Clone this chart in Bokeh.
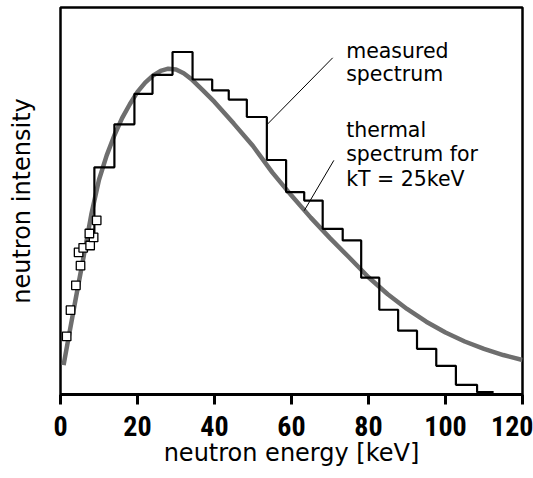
import math
from bokeh.plotting import figure
from bokeh.models import Range1d, FixedTicker
from bokeh.core.properties import value
from bokeh.embed import file_html
from bokeh.resources import INLINE

# ---- data ----
x_ticks = [0, 20, 40, 60, 80, 100, 120]

curve_e = [0.8, 2, 4, 6, 8, 10, 12, 14, 16, 18, 20, 22, 24, 26, 28, 30, 32, 34, 37,
           40, 45, 50, 55, 60, 65, 70, 75, 80, 85, 90, 95, 100, 105, 110, 115, 120]
curve_i = [7.6, 14.2, 25.0, 35.6, 46.5, 55.5, 61.8, 67.0, 71.4, 75.0, 78.2, 80.6,
           82.4, 83.6, 84.2, 84.0, 83.0, 81.5, 78.6, 75.6, 70.0, 64.2, 57.4, 51.4,
           45.7, 40.4, 35.4, 30.3, 25.9, 22.1, 18.8, 16.0, 13.7, 11.8, 10.2, 8.9]

hist_edges = [8.8, 14.0, 19.2, 23.9, 29.1, 34.3, 39.4, 43.7, 48.4, 53.6, 58.6,
              63.3, 68.1, 73.3, 78.1, 82.8, 87.7, 92.6, 97.6, 102.7, 108.2, 112.5]
hist_heights = [58.7, 69.8, 77.7, 82.6, 88.5, 81.4, 78.6, 76.2, 71.7, 60.6, 52.3,
                50.1, 42.8, 39.8, 30.2, 21.9, 16.5, 11.8, 7.4, 2.5, 0.6]
hist_start = 40.0

pts_e = [1.6, 2.6, 4.0, 5.2, 4.7, 5.9, 7.7, 8.6, 7.5, 9.4]
pts_i = [15.0, 21.8, 28.2, 33.3, 36.7, 37.9, 38.5, 40.6, 41.6, 45.0]

note_lines = ["measured", "spectrum", "thermal", "spectrum for", "kT = 25keV"]
note_x = [74.2, 74.2, 74.2, 74.2, 74.2]
note_y = [88.7, 82.9, 68.4, 62.2, 55.7]
ptr_x0 = [53.8, 63.3]
ptr_y0 = [69.9, 47.5]
ptr_x1 = [70.7, 71.0]
ptr_y1 = [87.0, 60.5]

p = figure(width=533, height=478, output_backend="svg", toolbar_location=None,
           x_range=Range1d(0, 120), y_range=Range1d(0, 100),
           min_border_left=60, min_border_right=11,
           min_border_top=7, min_border_bottom=84)
p.background_fill_color = "white"
p.border_fill_color = "white"
p.outline_line_color = "black"
p.outline_line_width = 2.5
p.grid.visible = False

ax = p.xaxis[0]
ax.ticker = FixedTicker(ticks=x_ticks)
ax.axis_line_width = 3
ax.axis_line_color = "black"
ax.major_tick_out = 10
ax.major_tick_in = 0
ax.major_tick_line_width = 3
ax.major_tick_line_color = "black"
ax.minor_tick_line_color = None
ax.major_label_standoff = 11
ax.major_label_text_font = "Roboto Condensed"
ax.major_label_text_font_style = "bold"
ax.major_label_text_font_size = "28px"
ax.major_label_text_color = "black"
ax.axis_label = "neutron energy [keV]"
ax.axis_label_text_font = "DejaVu Sans"
ax.axis_label_text_font_style = "normal"
ax.axis_label_text_font_size = "24px"
ax.axis_label_text_color = "black"
ax.axis_label_standoff = 0

ay = p.yaxis[0]
ay.ticker = FixedTicker(ticks=[])
ay.axis_line_color = None
ay.major_tick_line_color = None
ay.minor_tick_line_color = None
ay.major_label_text_font_size = "0px"
ay.axis_label = "neutron intensity"
ay.axis_label_text_font = "DejaVu Sans"
ay.axis_label_text_font_style = "normal"
ay.axis_label_text_font_size = "24px"
ay.axis_label_text_color = "black"
ay.axis_label_standoff = 25

p.line(curve_e, curve_i, line_color="#6e6e6e", line_width=4.5)

hx = [hist_edges[0]]
hy = [hist_start]
for i, h in enumerate(hist_heights):
    hx += [hist_edges[i], hist_edges[i + 1]]
    hy += [h, h]
p.line(hx, hy, line_color="black", line_width=2.2)

p.scatter(pts_e, pts_i, marker="square", size=8.5, fill_color="white",
          line_color="black", line_width=1.3)

p.segment(x0=ptr_x0, y0=ptr_y0, x1=ptr_x1, y1=ptr_y1, line_color="black", line_width=1)

p.text(x=note_x, y=note_y, text=note_lines, text_font=value("DejaVu Sans"),
       text_font_size="20.5px", text_align="left", text_baseline="alphabetic",
       text_color="black")

open("out.html", "w").write(file_html(p, INLINE))
